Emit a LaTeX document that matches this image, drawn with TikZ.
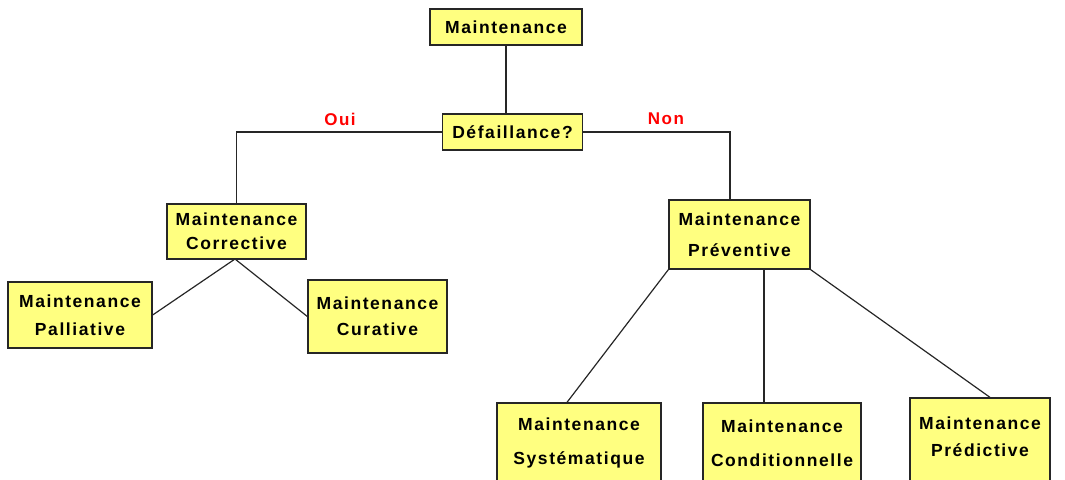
\documentclass[tikz,border=0pt]{standalone}
\usepackage{fontspec}
\setmainfont{Liberation Sans}[LetterSpace=9]
\begin{document}
\begin{tikzpicture}[x=1pt,y=-1pt,
  box/.style={draw=black!85, line width=1.3pt, fill=boxyellow, inner sep=0pt,
    align=center, font=\fontsize{17.5}{24}\selectfont\bfseries},
  link/.style={draw=black!85, line width=1.2pt},
  lab/.style={text=red, font=\fontsize{17}{19}\selectfont\bfseries, inner sep=0pt}]
\definecolor{boxyellow}{RGB}{255,255,128}
\useasboundingbox (0,0) rectangle (1065,479);
\clip (0,0) rectangle (1065,479);
\node[box, minimum width=152pt, minimum height=36pt] (top) at (506,27) {Maintenance};
\node[box, minimum width=140pt, minimum height=36pt] (def) at (512.5,132) {Défaillance?};
\node[box, minimum width=139pt, minimum height=55pt] (corr) at (236.5,231.5) {Maintenance\\Corrective};
\node[box, minimum width=144pt, minimum height=66pt] (pall) at (80,315) {Maintenance\\[4pt]Palliative};
\node[box, minimum width=139pt, minimum height=73pt] (cur) at (377.5,316.5) {Maintenance\\[2pt]Curative};
\node[box, minimum width=141pt, minimum height=69pt] (prev) at (739.5,234.5) {Maintenance\\[7pt]Préventive};
\node[box, minimum width=164pt, minimum height=80pt] (sys) at (579,443) {Maintenance\\[10pt]Systématique};
\node[box, minimum width=158pt, minimum height=80pt] (cond) at (782,443) {Maintenance\\[10pt]Conditionnelle};
\node[box, minimum width=140pt, minimum height=90pt] (pred) at (980,443) {\raisebox{0pt}{}\\[-28pt]Maintenance\\[3pt]Prédictive};
\coordinate (cB) at (730,200);
\coordinate (cC) at (764,269);
\coordinate (cD) at (235,259);
\node[lab] (oui) at (340,119) {Oui};
\node[lab] (non) at (666,119) {Non};
\draw[link] (top.south) -- (top.south |- def.north);
\draw[link] (def.west) -| (corr.north);
\draw[link] (def.east) -| (cB);
\draw[link] (cD) -- (pall.east);
\draw[link] (cD) -- (cur.west);
\draw[link] (prev.south west) -- ([xshift=-12pt]sys.north);
\draw[link] (cC) -- (cond.north -| cC);
\draw[link] (prev.south east) -- ([xshift=10pt]pred.north);
\end{tikzpicture}
\end{document}
